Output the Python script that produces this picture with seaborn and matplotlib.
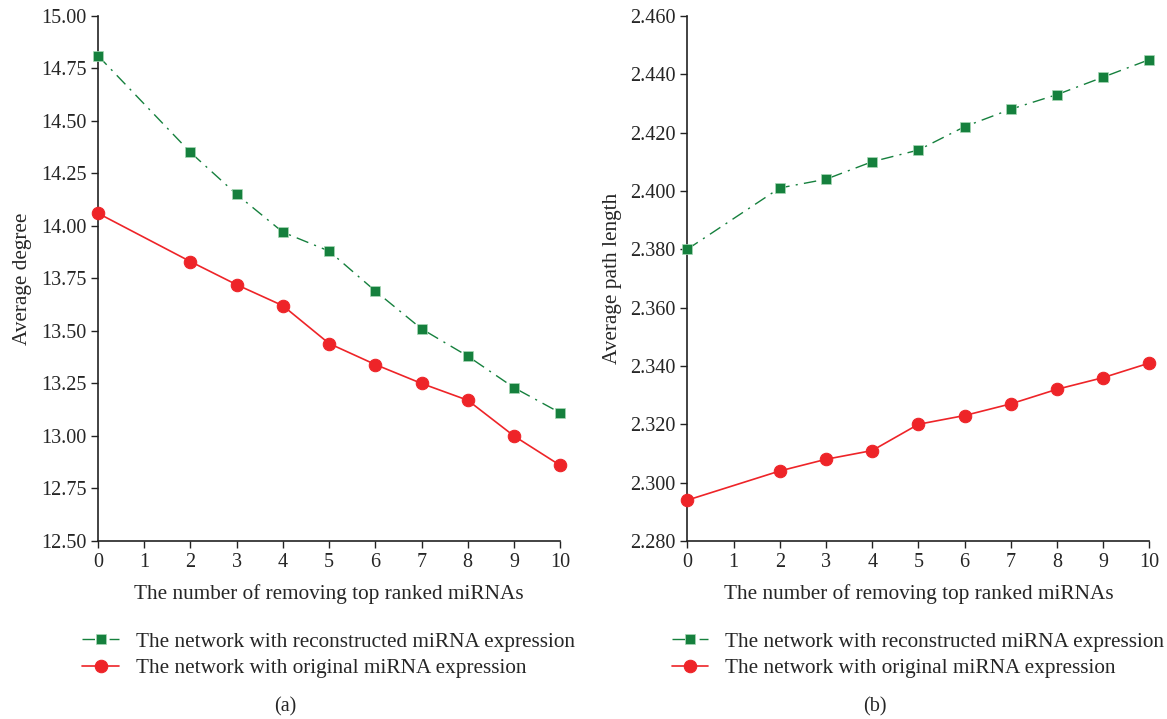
import matplotlib
matplotlib.use("Agg")
import matplotlib.pyplot as plt
import numpy as np
import pandas as pd
import seaborn as sns

# %%
removed = [0, 2, 3, 4, 5, 6, 7, 8, 9, 10]
degree_recon = [14.81, 14.35, 14.15, 13.97, 13.88, 13.69, 13.51, 13.38, 13.23, 13.11]
degree_orig = [14.06, 13.83, 13.72, 13.62, 13.44, 13.34, 13.25, 13.17, 13.00, 12.86]
path_recon = [2.380, 2.401, 2.404, 2.410, 2.414, 2.422, 2.428, 2.433, 2.439, 2.445]
path_orig = [2.294, 2.304, 2.308, 2.311, 2.320, 2.323, 2.327, 2.332, 2.336, 2.341]
label_recon = "The network with reconstructed miRNA expression"
label_orig = "The network with original miRNA expression"

# %%
sns.set_style("ticks")
plt.rcParams["font.family"] = ["Liberation Serif", "DejaVu Serif"]
plt.rcParams["font.size"] = 14

green = "#15803d"
red = "#ee2428"

fig = plt.figure(figsize=(11.67, 7.19), dpi=100)
ax1 = fig.add_axes([0.084, 0.2476, 0.396, 0.7304])
ax2 = fig.add_axes([0.589, 0.2476, 0.396, 0.7304])

panels = [
    (ax1, degree_recon, degree_orig, "Average degree", (12.5, 15.0), np.arange(12.5, 15.01, 0.25), "{:.2f}", "(a)"),
    (ax2, path_recon, path_orig, "Average path length", (2.28, 2.46), np.arange(2.28, 2.4601, 0.02), "{:.3f}", "(b)"),
]

for ax, recon, orig, ylabel, ylim, yticks, fmt, cap in panels:
    df = pd.DataFrame({"x": removed, "recon": recon, "orig": orig})
    sns.lineplot(data=df, x="x", y="recon", ax=ax, color=green, marker="s", markersize=6.5,
                 markeredgecolor="#a8d8b6", markeredgewidth=0.5, linewidth=1.0,
                 linestyle=(0, (9, 4.5, 1.5, 4.5)), label=label_recon, clip_on=False, zorder=3)
    sns.lineplot(data=df, x="x", y="orig", ax=ax, color=red, marker="o", markersize=9,
                 markeredgecolor=red, linewidth=1.2, label=label_orig, clip_on=False, zorder=3)
    ax.set_xlim(0, 10)
    ax.set_xticks(range(0, 11))
    ax.set_ylim(*ylim)
    ax.set_yticks(yticks)
    ax.set_yticklabels([fmt.format(v) for v in yticks])
    ax.tick_params(labelsize=14.5, length=5, width=1, color="#222222", direction="out")
    for s in ["left", "bottom"]:
        ax.spines[s].set_linewidth(1.2)
        ax.spines[s].set_color("#222222")
    sns.despine(ax=ax)
    ax.set_xlabel("The number of removing top ranked miRNAs", fontsize=15.3, labelpad=9)
    ax.set_ylabel(ylabel, fontsize=15.3, labelpad=6)
    ax.legend(loc="upper left", bbox_to_anchor=(-0.052, -0.157), frameon=False, fontsize=15.3,
              handlelength=1.7, handletextpad=0.8, labelspacing=0.3, borderaxespad=0)
    ax.text(0.405, -0.315, cap, transform=ax.transAxes, fontsize=14.5, ha="center", va="center")

fig.savefig("out.png", dpi=100)
